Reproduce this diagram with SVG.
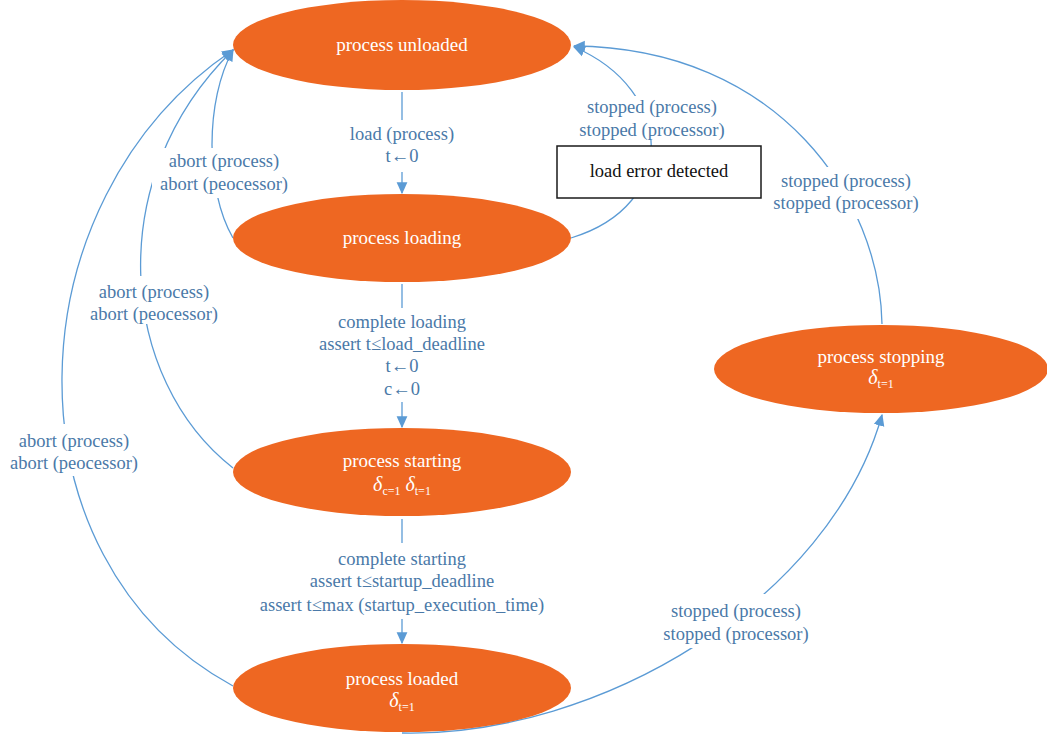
<svg xmlns="http://www.w3.org/2000/svg" width="1047" height="737" viewBox="0 0 1047 737">
  <defs>
    <marker id="arrow" markerUnits="userSpaceOnUse" markerWidth="12" markerHeight="12" viewBox="0 0 10 10" refX="9" refY="5" orient="auto">
      <path d="M0,0.5 L10,5 L0,9.5 Z" fill="#5b9bd5"/>
    </marker>
    <style>
      .state { fill: #ee6722; }
      .stext { font-family: "Liberation Serif", "DejaVu Serif", serif; font-size: 19px; fill: #ffffff; text-anchor: middle; }
      .sym { font-style: italic; font-size: 20px; }
      .sub { font-size: 12px; }
      .edge { fill: none; stroke: #5b9bd5; stroke-width: 1.3; }
      .lbg { fill: #ffffff; }
      .ltext { font-family: "Liberation Serif", "DejaVu Serif", serif; font-size: 18.5px; fill: #4a79a8; text-anchor: middle; }
      .box { fill: #ffffff; stroke: #1a1a1a; stroke-width: 1.5; }
      .btext { font-family: "Liberation Serif", "DejaVu Serif", serif; font-size: 18.5px; fill: #111111; text-anchor: middle; }
    </style>
  </defs>
  <rect width="1047" height="737" fill="#ffffff"/>

  <!-- transitions -->
  <g id="connectors">
    <line class="edge" x1="402" y1="92" x2="402" y2="193" marker-end="url(#arrow)"/>
    <line class="edge" x1="402" y1="284" x2="402" y2="427" marker-end="url(#arrow)"/>
    <line class="edge" x1="402" y1="519" x2="402" y2="643" marker-end="url(#arrow)"/>
    <!-- load error back to unloaded -->
    <path class="edge" d="M571,238 C680,205 675,90 574,47" marker-end="url(#arrow)"/>
    <!-- stopping back to unloaded -->
    <path class="edge" d="M882,324 C880,200 780,48 574,46" marker-end="url(#arrow)"/>
    <!-- loaded to stopping -->
    <path class="edge" d="M402,733 C600,737 830,600 882,415" marker-end="url(#arrow)"/>
    <!-- abort transitions -->
    <path class="edge" d="M233,238 C205,190 205,100 233,50" marker-end="url(#arrow)"/>
    <path class="edge" d="M233,468 C120,380 100,180 233,50" marker-end="url(#arrow)"/>
    <path class="edge" d="M233,686 C0,560 10,200 233,50" marker-end="url(#arrow)"/>
  </g>

  <!-- transition labels -->
  <g id="labels">
    <rect class="lbg" x="341" y="120" width="122" height="52"/>
    <text class="ltext" x="402" y="140">load (process)</text>
    <text class="ltext" x="402" y="162">t←0</text>

    <rect class="lbg" x="571" y="96" width="164" height="44"/>
    <text class="ltext" x="652" y="113">stopped (process)</text>
    <text class="ltext" x="652" y="136">stopped (processor)</text>

    <rect class="lbg" x="152" y="148" width="146" height="50"/>
    <text class="ltext" x="224" y="167">abort (process)</text>
    <text class="ltext" x="224" y="190">abort (peocessor)</text>

    <rect class="lbg" x="766" y="167" width="162" height="52"/>
    <text class="ltext" x="846" y="187">stopped (process)</text>
    <text class="ltext" x="846" y="209">stopped (processor)</text>

    <rect class="lbg" x="82" y="276" width="146" height="48"/>
    <text class="ltext" x="154" y="298">abort (process)</text>
    <text class="ltext" x="154" y="320">abort (peocessor)</text>

    <rect class="lbg" x="310" y="308" width="184" height="94"/>
    <text class="ltext" x="402" y="328">complete loading</text>
    <text class="ltext" x="402" y="350">assert t≤load_deadline</text>
    <text class="ltext" x="402" y="372">t←0</text>
    <text class="ltext" x="402" y="395">c←0</text>

    <rect class="lbg" x="2" y="424" width="146" height="52"/>
    <text class="ltext" x="74" y="447">abort (process)</text>
    <text class="ltext" x="74" y="469">abort (peocessor)</text>

    <rect class="lbg" x="250" y="543" width="304" height="76"/>
    <text class="ltext" x="402" y="565">complete starting</text>
    <text class="ltext" x="402" y="587">assert t≤startup_deadline</text>
    <text class="ltext" x="402" y="611">assert t≤max (startup_execution_time)</text>

    <rect class="lbg" x="655" y="594" width="162" height="54"/>
    <text class="ltext" x="736" y="617">stopped (process)</text>
    <text class="ltext" x="736" y="640">stopped (processor)</text>
  </g>

  <!-- states -->
  <g id="unloaded">
    <ellipse class="state" cx="402" cy="45" rx="169" ry="45"/>
    <text class="stext" x="402" y="51">process unloaded</text>
  </g>
  <g id="loading">
    <ellipse class="state" cx="402" cy="238" rx="169" ry="44"/>
    <text class="stext" x="402" y="244">process loading</text>
  </g>
  <g id="starting">
    <ellipse class="state" cx="402" cy="472" rx="169" ry="44"/>
    <text class="stext" x="402" y="467">process starting</text>
    <text class="stext" x="402" y="491"><tspan class="sym">δ</tspan><tspan class="sub" dy="4">c=1</tspan><tspan class="sym" dy="-4"> δ</tspan><tspan class="sub" dy="4">t=1</tspan></text>
  </g>
  <g id="loaded">
    <ellipse class="state" cx="402" cy="688" rx="169" ry="44"/>
    <text class="stext" x="402" y="685">process loaded</text>
    <text class="stext" x="402" y="707"><tspan class="sym">δ</tspan><tspan class="sub" dy="4">t=1</tspan></text>
  </g>
  <g id="stopping">
    <ellipse class="state" cx="881" cy="369" rx="167" ry="44"/>
    <text class="stext" x="881" y="363">process stopping</text>
    <text class="stext" x="881" y="384"><tspan class="sym">δ</tspan><tspan class="sub" dy="4">t=1</tspan></text>
  </g>
  <g id="load-error">
    <rect class="box" x="557" y="146" width="204" height="52"/>
    <text class="btext" x="659" y="177">load error detected</text>
  </g>
</svg>
